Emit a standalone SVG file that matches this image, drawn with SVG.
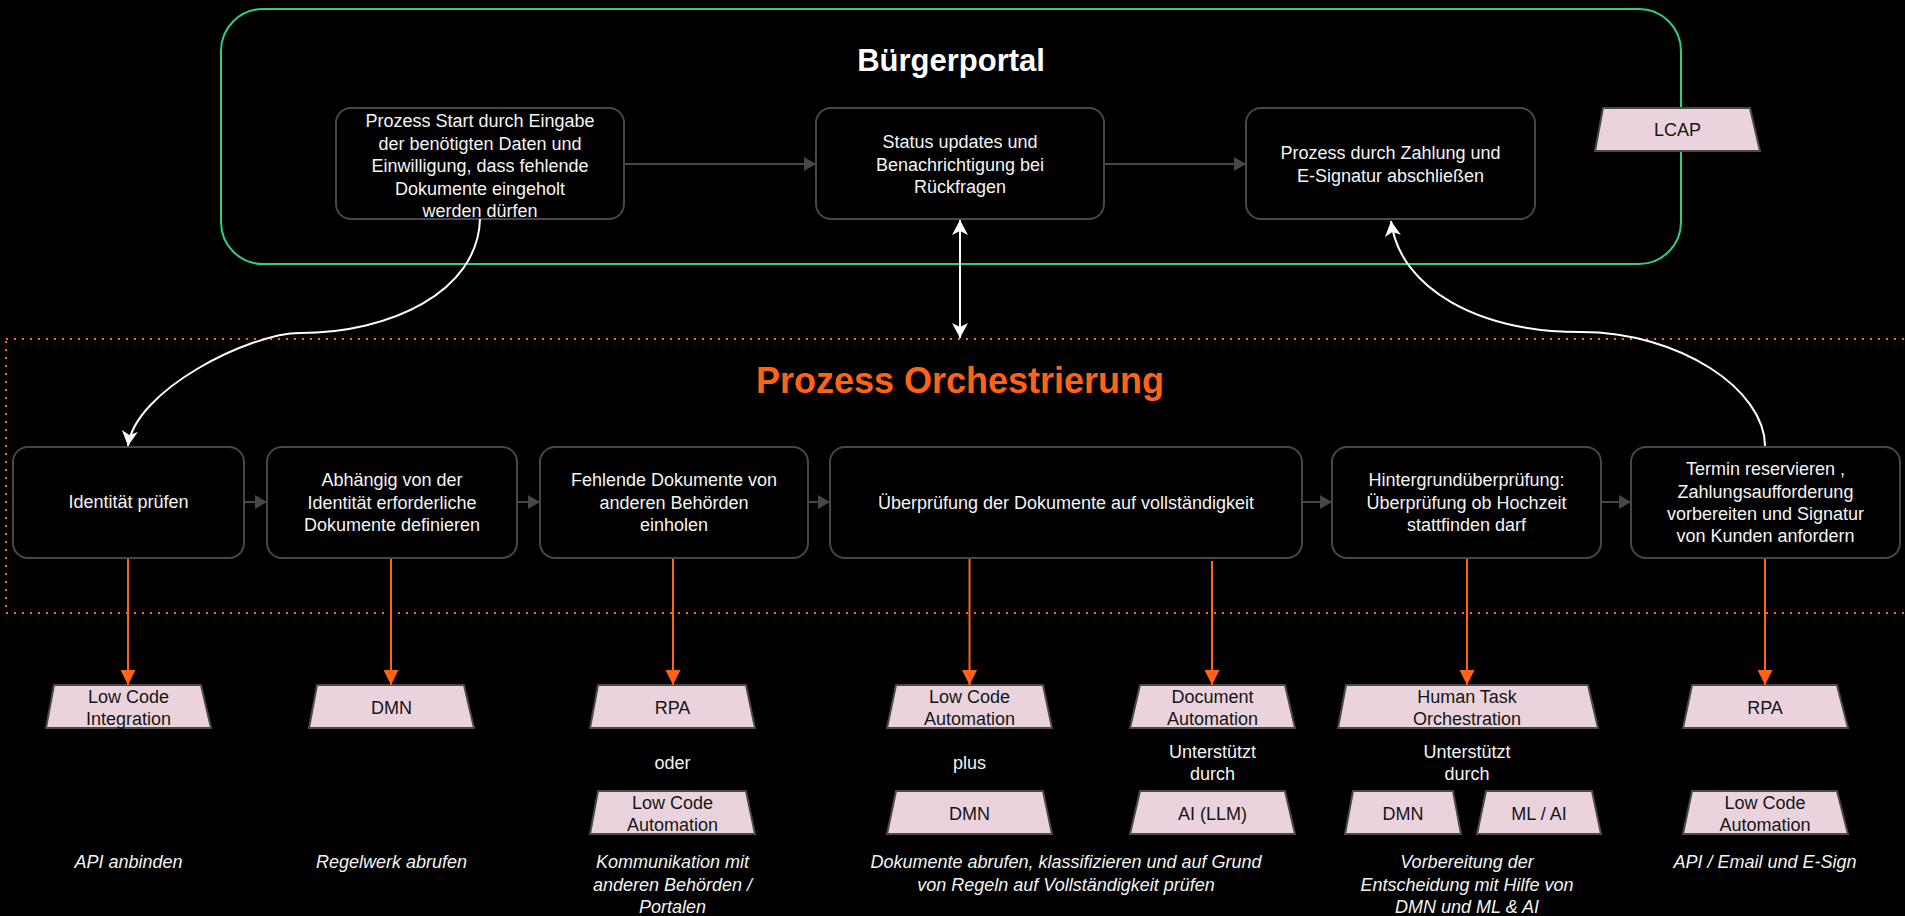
<svg xmlns="http://www.w3.org/2000/svg" width="1905" height="916" viewBox="0 0 1905 916">
<defs>
<style>
text{font-family:"Liberation Sans",Arial,sans-serif;font-size:18px;fill:#f4f4f4;text-anchor:middle}
.box{fill:#000;stroke:#474747;stroke-width:2}
.tool{fill:#ead3dd;stroke:#4a4a4a;stroke-width:2}
.tool-t{fill:#161616}
.it{font-style:italic}
.gray{stroke:#474747;stroke-width:2;fill:none}
.org{stroke:#ff6316;stroke-width:2;fill:none}
.wht{stroke:#fff;stroke-width:2;fill:none}
</style>
<marker id="mg" viewBox="0 0 12 14" refX="12" refY="7" markerWidth="12" markerHeight="14" markerUnits="userSpaceOnUse" orient="auto"><path d="M0,0 L12,7 L0,14 Z" fill="#474747"/></marker>
<marker id="mo" viewBox="0 0 15 15" refX="15" refY="7.5" markerWidth="15" markerHeight="15" markerUnits="userSpaceOnUse" orient="auto"><path d="M0,0 L15,7.5 L0,15 Z" fill="#ff6316"/></marker>
<marker id="mw" viewBox="0 0 15 16" refX="15" refY="8" markerWidth="15" markerHeight="16" markerUnits="userSpaceOnUse" orient="auto-start-reverse"><path d="M0,0 L15,8 L0,16 L4,8 Z" fill="#fff"/></marker>
</defs>
<rect width="1905" height="916" fill="#000"/>

<g id="buergerportal">
<rect x="221" y="9" width="1460" height="255" rx="42" fill="none" stroke="#2fd07d" stroke-width="2"/>
<text x="951" y="71" style="font-size:31px;font-weight:bold;fill:#fff">Bürgerportal</text>
</g>

<g id="orchestrierung">
<rect x="6" y="339" width="1960" height="274" fill="none" stroke="#ff6316" stroke-width="2" stroke-dasharray="2 6"/>
<text x="960" y="393" style="font-size:36px;font-weight:bold;fill:#ff6316">Prozess Orchestrierung</text>
</g>

<g id="node-start">
<rect class="box" x="336" y="108" width="288" height="111" rx="15"/>
<text x="480" y="127">Prozess Start durch Eingabe</text>
<text x="480" y="149.5">der benötigten Daten und</text>
<text x="480" y="172">Einwilligung, dass fehlende</text>
<text x="480" y="194.5">Dokumente eingeholt</text>
<text x="480" y="217">werden dürfen</text>
</g>
<g id="node-status">
<rect class="box" x="816" y="108" width="288" height="111" rx="15"/>
<text x="960" y="148">Status updates und</text>
<text x="960" y="171">Benachrichtigung bei</text>
<text x="960" y="193">Rückfragen</text>
</g>
<g id="node-abschluss">
<rect class="box" x="1246" y="108" width="289" height="111" rx="15"/>
<text x="1390.5" y="159">Prozess durch Zahlung und</text>
<text x="1390.5" y="182">E-Signatur abschließen</text>
</g>
<g id="tool-lcap">
<polygon class="tool" points="1603,108 1750,108 1760,151 1595,151"/>
<text class="tool-t" x="1677.5" y="136">LCAP</text>
</g>

<g id="node-identitaet">
<rect class="box" x="13" y="447" width="231" height="111" rx="15"/>
<text x="128.5" y="508">Identität prüfen</text>
</g>
<g id="node-dokumente-definieren">
<rect class="box" x="267" y="447" width="250" height="111" rx="15"/>
<text x="392" y="486">Abhängig von der</text>
<text x="392" y="509">Identität erforderliche</text>
<text x="392" y="531">Dokumente definieren</text>
</g>
<g id="node-dokumente-einholen">
<rect class="box" x="540" y="447" width="268" height="111" rx="15"/>
<text x="674" y="486">Fehlende Dokumente von</text>
<text x="674" y="509">anderen Behörden</text>
<text x="674" y="531">einholen</text>
</g>
<g id="node-pruefung">
<rect class="box" x="830" y="447" width="472" height="111" rx="15"/>
<text x="1066" y="509">Überprüfung der Dokumente auf vollständigkeit</text>
</g>
<g id="node-hintergrund">
<rect class="box" x="1332" y="447" width="269" height="111" rx="15"/>
<text x="1466.5" y="486">Hintergrundüberprüfung:</text>
<text x="1466.5" y="509">Überprüfung ob Hochzeit</text>
<text x="1466.5" y="531">stattfinden darf</text>
</g>
<g id="node-termin">
<rect class="box" x="1631" y="447" width="269" height="111" rx="15"/>
<text x="1765.5" y="475">Termin reservieren ,</text>
<text x="1765.5" y="498">Zahlungsaufforderung</text>
<text x="1765.5" y="520">vorbereiten und Signatur</text>
<text x="1765.5" y="542">von Kunden anfordern</text>
</g>

<g id="tools-identitaet">
<polygon class="tool" points="54,685 201,685 211,728 46,728"/>
<text class="tool-t" x="128.5" y="703">Low Code</text>
<text class="tool-t" x="128.5" y="725">Integration</text>
<text class="it" x="128.5" y="868">API anbinden</text>
</g>
<g id="tools-definieren">
<polygon class="tool" points="317,685 464,685 474,728 309,728"/>
<text class="tool-t" x="391.5" y="714">DMN</text>
<text class="it" x="391.5" y="868">Regelwerk abrufen</text>
</g>
<g id="tools-einholen">
<polygon class="tool" points="598,685 746,685 755,728 590,728"/>
<text class="tool-t" x="672.5" y="714">RPA</text>
<text x="672.5" y="769">oder</text>
<polygon class="tool" points="598,791 746,791 755,834 590,834"/>
<text class="tool-t" x="672.5" y="809">Low Code</text>
<text class="tool-t" x="672.5" y="831">Automation</text>
<text class="it" x="672.5" y="868">Kommunikation mit</text>
<text class="it" x="672.5" y="891">anderen Behörden /</text>
<text class="it" x="672.5" y="913">Portalen</text>
</g>
<g id="tools-pruefung">
<polygon class="tool" points="896,685 1043,685 1052,728 887,728"/>
<text class="tool-t" x="969.5" y="703">Low Code</text>
<text class="tool-t" x="969.5" y="725">Automation</text>
<text x="969.5" y="769">plus</text>
<polygon class="tool" points="896,791 1043,791 1052,834 887,834"/>
<text class="tool-t" x="969.5" y="820">DMN</text>
<polygon class="tool" points="1140,685 1285,685 1295,728 1130,728"/>
<text class="tool-t" x="1212.5" y="703">Document</text>
<text class="tool-t" x="1212.5" y="725">Automation</text>
<text x="1212.5" y="758">Unterstützt</text>
<text x="1212.5" y="780">durch</text>
<polygon class="tool" points="1140,791 1285,791 1295,834 1130,834"/>
<text class="tool-t" x="1212.5" y="820">AI (LLM)</text>
<text class="it" x="1066" y="868">Dokumente abrufen, klassifizieren und auf Grund</text>
<text class="it" x="1066" y="891">von Regeln auf Vollständigkeit prüfen</text>
</g>
<g id="tools-hintergrund">
<polygon class="tool" points="1346,685 1588,685 1598,728 1338,728"/>
<text class="tool-t" x="1467" y="703">Human Task</text>
<text class="tool-t" x="1467" y="725">Orchestration</text>
<text x="1467" y="758">Unterstützt</text>
<text x="1467" y="780">durch</text>
<polygon class="tool" points="1353,791 1453,791 1461,834 1345,834"/>
<text class="tool-t" x="1403" y="820">DMN</text>
<polygon class="tool" points="1486,791 1592,791 1601,834 1477,834"/>
<text class="tool-t" x="1539" y="820">ML / AI</text>
<text class="it" x="1467" y="868">Vorbereitung der</text>
<text class="it" x="1467" y="891">Entscheidung mit Hilfe von</text>
<text class="it" x="1467" y="913">DMN und ML &amp; AI</text>
</g>
<g id="tools-termin">
<polygon class="tool" points="1692,685 1837,685 1848,728 1683,728"/>
<text class="tool-t" x="1765" y="714">RPA</text>
<polygon class="tool" points="1692,791 1837,791 1848,834 1683,834"/>
<text class="tool-t" x="1765" y="809">Low Code</text>
<text class="tool-t" x="1765" y="831">Automation</text>
<text class="it" x="1765" y="868">API / Email und E-Sign</text>
</g>

<g id="connectors">
<line class="gray" x1="625" y1="164" x2="816" y2="164" marker-end="url(#mg)"/>
<line class="gray" x1="1105" y1="164" x2="1246" y2="164" marker-end="url(#mg)"/>
<line class="gray" x1="245" y1="502" x2="267" y2="502" marker-end="url(#mg)"/>
<line class="gray" x1="518" y1="502" x2="540" y2="502" marker-end="url(#mg)"/>
<line class="gray" x1="809" y1="502" x2="830" y2="502" marker-end="url(#mg)"/>
<line class="gray" x1="1303" y1="502" x2="1332" y2="502" marker-end="url(#mg)"/>
<line class="gray" x1="1602" y1="502" x2="1631" y2="502" marker-end="url(#mg)"/>

<line class="org" x1="128" y1="559" x2="128" y2="685" marker-end="url(#mo)"/>
<line class="org" x1="391" y1="559" x2="391" y2="685" marker-end="url(#mo)"/>
<line class="org" x1="673" y1="559" x2="673" y2="685" marker-end="url(#mo)"/>
<line class="org" x1="969.5" y1="559" x2="969.5" y2="685" marker-end="url(#mo)"/>
<line class="org" x1="1212" y1="561" x2="1212" y2="685" marker-end="url(#mo)"/>
<line class="org" x1="1467" y1="559" x2="1467" y2="685" marker-end="url(#mo)"/>
<line class="org" x1="1765" y1="559" x2="1765" y2="685" marker-end="url(#mo)"/>

<path class="wht" d="M480 219 C478 292 390 333 300 333 C250 333 135 390 128 446" marker-end="url(#mw)"/>
<line class="wht" x1="960" y1="220" x2="960" y2="338" marker-start="url(#mw)" marker-end="url(#mw)"/>
<path class="wht" d="M1765 446 C1765 390 1680 332 1581 332 C1480 332 1400 290 1391 221" marker-end="url(#mw)"/>
</g>
</svg>
